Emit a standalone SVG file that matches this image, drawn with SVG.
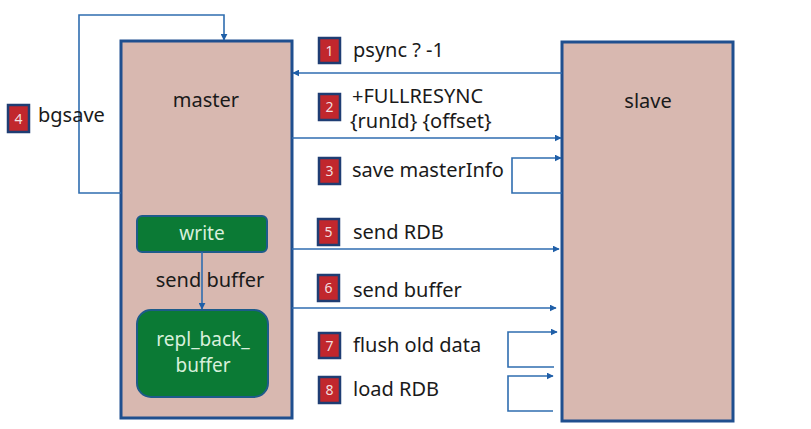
<svg xmlns="http://www.w3.org/2000/svg" width="811" height="429" viewBox="0 0 811 429">
<defs>
<style>
.box{fill:#d8b8b0;stroke:#1f4f8f;stroke-width:3}
.conn{fill:none;stroke:#2f6db0;stroke-width:1.6}
.lbl{font-family:"Noto Sans","Open Sans",sans-serif;font-size:20px;fill:#1a1a1a}
.badge rect{fill:#c1272d;stroke:#1f3d73;stroke-width:2.5}
.badge text{font-family:"Noto Sans",sans-serif;font-size:14px;fill:#f3dede;text-anchor:middle}
.g{fill:#0b7a35;stroke:#1d5b8a;stroke-width:2}
.gt{font-family:"Noto Sans","Open Sans",sans-serif;fill:#d8f0dc;text-anchor:middle}
</style>
<marker id="ah" viewBox="0 0 10 10" refX="9" refY="5" markerWidth="7" markerHeight="7" markerUnits="userSpaceOnUse" orient="auto">
<path d="M0,0 L10,5 L0,10 z" fill="#1f5fa8"/>
</marker>
</defs>
<rect width="811" height="429" fill="#ffffff"/>

<g id="master">
<rect class="box" x="121" y="41" width="171" height="377"/>
<text class="lbl" x="206" y="107" text-anchor="middle">master</text>
</g>
<g id="slave">
<rect class="box" x="562" y="42" width="171" height="379"/>
<text class="lbl" x="648" y="108" text-anchor="middle">slave</text>
</g>
<g id="write">
<rect class="g" x="137" y="216" width="130" height="36" rx="5"/>
<text class="gt" x="202" y="240" font-size="19">write</text>
</g>
<g id="repl_back_buffer">
<rect class="g" x="137" y="310" width="131" height="87" rx="14"/>
<text class="gt" x="203" y="346" font-size="19">repl_back_</text>
<text class="gt" x="203" y="372" font-size="19">buffer</text>
</g>

<g id="connectors">
<polyline class="conn" points="121,193 79,193 79,15 224,15 224,40" marker-end="url(#ah)"/>
<line class="conn" x1="562" y1="73" x2="293" y2="73" marker-end="url(#ah)"/>
<line class="conn" x1="292" y1="138" x2="561" y2="138" marker-end="url(#ah)"/>
<polyline class="conn" points="562,193 512,193 512,158 561,158" marker-end="url(#ah)"/>
<line class="conn" x1="292" y1="249" x2="559" y2="249" marker-end="url(#ah)"/>
<line class="conn" x1="292" y1="308" x2="556" y2="308" marker-end="url(#ah)"/>
<polyline class="conn" points="554,367 508,367 508,332 557,332" marker-end="url(#ah)"/>
<polyline class="conn" points="553,411 508,411 508,376 553,376" marker-end="url(#ah)"/>
<line class="conn" x1="202" y1="252" x2="202" y2="309" marker-end="url(#ah)"/>
</g>

<g id="labels">
<text class="lbl" x="353" y="57">psync ? -1</text>
<text class="lbl" x="352" y="103">+FULLRESYNC</text>
<text class="lbl" x="350" y="128" font-size="18">{runId} {offset}</text>
<text class="lbl" x="352" y="177">save masterInfo</text>
<text class="lbl" x="353" y="239">send RDB</text>
<text class="lbl" x="353" y="297">send buffer</text>
<text class="lbl" x="353" y="352">flush old data</text>
<text class="lbl" x="353" y="396">load RDB</text>
<text class="lbl" x="38" y="122">bgsave</text>
<text class="lbl" x="210" y="287" text-anchor="middle">send buffer</text>
</g>

<g id="badges">
<g class="badge"><rect x="319" y="38" width="21" height="25"/><text x="329.5" y="56">1</text></g>
<g class="badge"><rect x="319" y="94" width="21" height="26"/><text x="329.5" y="112">2</text></g>
<g class="badge"><rect x="319" y="158" width="21" height="26"/><text x="329.5" y="176">3</text></g>
<g class="badge"><rect x="8" y="105" width="21" height="27"/><text x="18.5" y="124">4</text></g>
<g class="badge"><rect x="318" y="219" width="21" height="26"/><text x="328.5" y="237">5</text></g>
<g class="badge"><rect x="318" y="275" width="21" height="26"/><text x="328.5" y="293">6</text></g>
<g class="badge"><rect x="319" y="333" width="21" height="25"/><text x="329.5" y="351">7</text></g>
<g class="badge"><rect x="319" y="377" width="21" height="26"/><text x="329.5" y="395">8</text></g>
</g>
</svg>
